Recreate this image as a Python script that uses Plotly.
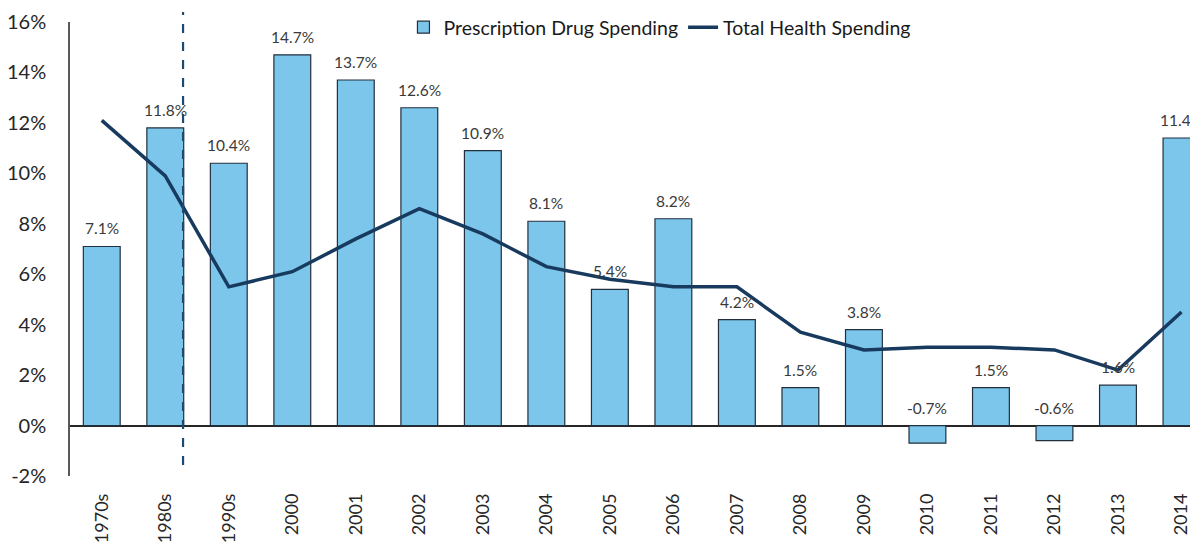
import plotly.graph_objects as go

categories = ["1970s", "1980s", "1990s", "2000", "2001", "2002", "2003", "2004", "2005",
              "2006", "2007", "2008", "2009", "2010", "2011", "2012", "2013", "2014"]
drug_spending = [7.1, 11.8, 10.4, 14.7, 13.7, 12.6, 10.9, 8.1, 5.4,
                 8.2, 4.2, 1.5, 3.8, -0.7, 1.5, -0.6, 1.6, 11.4]
total_spending = [12.1, 9.9, 5.5, 6.1, 7.4, 8.6, 7.6, 6.3, 5.8,
                  5.5, 5.5, 3.7, 3.0, 3.1, 3.1, 3.0, 2.2, 4.5]
y_ticks = [-2, 0, 2, 4, 6, 8, 10, 12, 14, 16]
y_tick_labels = ["-2%", "0%", "2%", "4%", "6%", "8%", "10%", "12%", "14%", "16%"]

FONT = "Lato"

fig = go.Figure()
fig.add_trace(go.Bar(
    x=categories, y=drug_spending, name="Prescription Drug Spending",
    marker=dict(color="#7CC5EB", line=dict(color="#22303e", width=1.2)),
    width=0.58,
))
fig.add_trace(go.Scatter(
    x=categories, y=total_spending, name="Total Health Spending",
    mode="lines", line=dict(color="#183a5e", width=3.5),
))

for i, v in enumerate(drug_spending):
    fig.add_annotation(
        x=i, y=max(v, 0), xref="x", yref="y", text=f"{v:.1f}%",
        showarrow=False, yshift=18, yanchor="middle",
        font=dict(family=FONT, size=15.5, color="#3a3a3a"),
    )

# dashed divider between 1980s and 1990s
fig.add_shape(
    type="line", xref="x", yref="paper", x0=1.28, x1=1.28, y0=0.024, y1=1.022,
    line=dict(color="#1f4a70", width=2.2, dash="dash"),
)

# page body has an 8px default margin; figure sized/offset to compensate
fig.update_layout(
    width=1190, height=536,
    margin=dict(l=62, r=0, t=14, b=68, autoexpand=False),
    plot_bgcolor="white", paper_bgcolor="white",
    font=dict(family=FONT, size=18, color="#262626"),
    showlegend=True,
    legend=dict(orientation="h", x=0.523, xanchor="center",
                yref="container", y=1.0, yanchor="top",
                font=dict(family=FONT, size=19.5, color="#1a1a1a"),
                bgcolor="rgba(0,0,0,0)", itemwidth=30, tracegroupgap=0),
)
fig.update_xaxes(
    type="category", range=[-0.5, 17.26], tickangle=-90, automargin=False,
    showline=False, showgrid=False, ticks="", ticklabelstandoff=13,
    tickfont=dict(family=FONT, size=18, color="#262626"),
)
fig.update_yaxes(
    range=[-2, 16], tickvals=y_ticks, ticktext=y_tick_labels, automargin=False,
    showgrid=False, showline=True, linecolor="#595959", linewidth=1.5,
    zeroline=True, zerolinecolor="#262626", zerolinewidth=1.5,
    ticks="", ticklabelstandoff=18,
    tickfont=dict(family=FONT, size=20, color="#262626"),
)

fig.write_html("out.html")
